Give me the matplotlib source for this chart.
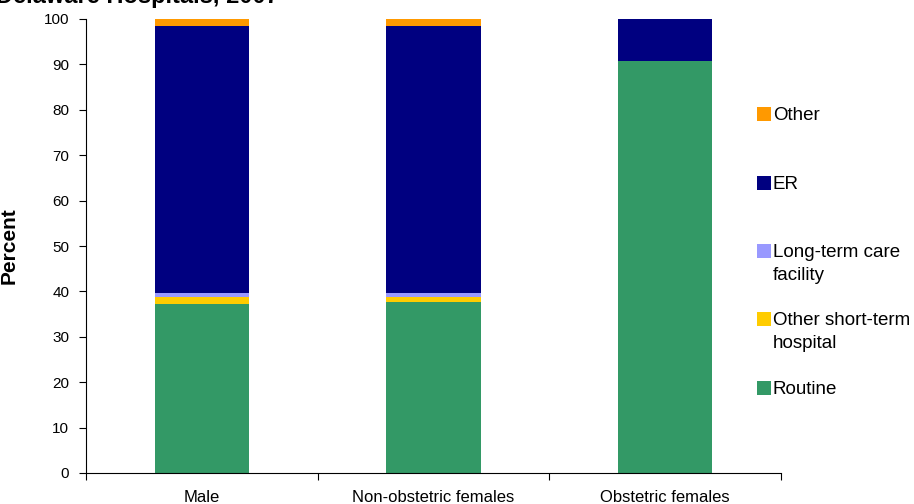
import matplotlib
matplotlib.use("Agg")
import matplotlib.pyplot as plt
from matplotlib.patches import Rectangle
import numpy as np

plt.rcParams['font.family'] = ['Liberation Sans', 'DejaVu Sans']

# discharge status shares (percent), stacked bottom to top
groups = ["Male", "Non-obstetric females", "Obstetric females"]
series = ["Routine", "Other short-term\nhospital", "Long-term care\nfacility", "ER", "Other"]
routine = [37.2, 37.7, 90.7]
other_short = [1.5, 1.1, 0.0]
long_term = [0.9, 0.8, 0.0]
er = [58.9, 58.9, 9.3]
other = [1.5, 1.5, 0.0]
colors = ["#339966", "#FFCC00", "#9999FF", "#000080", "#FF9900"]

W, H = 914, 504
fig = plt.figure(figsize=(W / 100, H / 100), dpi=100)
ax = fig.add_axes([86 / W, 1 - 473 / H, 695 / W, 454 / H])

x = np.arange(len(groups))
bottom = np.zeros(len(groups))
for vals, col in zip([routine, other_short, long_term, er, other], colors):
    ax.bar(x, vals, width=0.406, bottom=bottom, color=col, edgecolor="none")
    bottom += np.array(vals)

ax.set_xlim(-0.5, len(groups) - 0.5)
ax.set_ylim(0, 100)
ax.set_yticks(range(0, 101, 10))
ax.tick_params(axis="y", direction="out", length=5, width=0.8, labelsize=11, pad=7)

# category labels in the middle, tick marks on the boundaries
ax.set_xticks(x)
ax.set_xticklabels(groups, fontsize=12)
ax.tick_params(axis="x", which="major", length=0, pad=12)
ax.set_xticks(np.arange(-0.5, len(groups)), minor=True)
ax.tick_params(axis="x", which="minor", direction="out", length=5, width=0.8)

for side in ("top", "right"):
    ax.spines[side].set_visible(False)
for side in ("left", "bottom"):
    ax.spines[side].set_linewidth(0.8)

ax.set_ylabel("Percent", fontsize=15, fontweight="bold")
ax.yaxis.set_label_coords(-67 / 695, 0.5)

fig.text(-4 / W, 1 - 3 / H, "Delaware Hospitals, 2007", fontsize=17,
         fontweight="bold", va="baseline", ha="left")

# legend, top entry first; each label line placed on its own baseline
box_top = [107, 176, 244, 312, 381]
for name, col, yp in zip(series[::-1], colors[::-1], box_top):
    fig.patches.append(Rectangle((757 / W, 1 - (yp + 13.5) / H), 13.5 / W, 13.5 / H,
                                 transform=fig.transFigure, facecolor=col,
                                 edgecolor="none"))
    for i, line in enumerate(name.split("\n")):
        fig.text(773 / W, 1 - (yp + 13 + 23 * i) / H, line, fontsize=13.5,
                 va="baseline", ha="left")

fig.savefig("out.png", dpi=100)
